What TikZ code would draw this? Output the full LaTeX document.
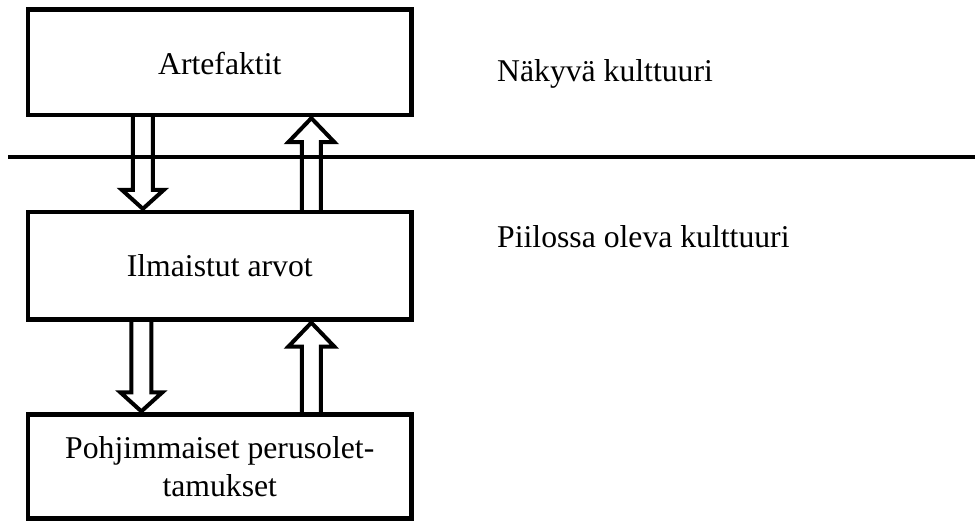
\documentclass[tikz,border=0pt]{standalone}
\usepackage{fontspec}
\setmainfont{Liberation Serif}
\usetikzlibrary{calc}
\begin{document}
\begin{tikzpicture}[x=1pt,y=-1pt,
  box/.style={draw, line width=4.3pt, rectangle, inner sep=0pt, align=center,
    font=\fontsize{31.7}{38}\selectfont},
  lbl/.style={anchor=base west, inner sep=0pt, font=\fontsize{31.7}{38}\selectfont},
  sep/.style={line width=4pt},
  hollow/.style={line width=4pt, line join=miter}
]
\useasboundingbox (0,0) rectangle (975,521);

\node[box, minimum width=383.5pt, minimum height=105.5pt, text depth=0pt] (art) at (219.75,62.25) {\raisebox{-2pt}{Artefaktit}};
\node[box, minimum width=383.5pt, minimum height=107.5pt] (arv) at (219.75,265.75) {\raisebox{-1pt}{Ilmaistut arvot}};
\node[box, minimum width=383.5pt, minimum height=104pt] (per) at (219.75,466.5) {Pohjimmaiset perusolet-\\tamukset};

\node[lbl] (nak) at (497,82) {Näkyvä kulttuuri};
\node[lbl] (pii) at (497,248) {Piilossa oleva kulttuuri};

% down arrow 1: from art to arv
\draw[hollow] let \p1=($(art.south west)+(117,0)$), \p2=($(arv.north west)+(117,0)$) in
  (\x1-10pt,\y1) -- (\x1-10pt,\y2+20pt) -- (\x1-21pt,\y2+20pt) -- (\x1,\y2+1pt)
  -- (\x1+21pt,\y2+20pt) -- (\x1+10pt,\y2+20pt) -- (\x1+10pt,\y1);
% up arrow 1: from arv to art
\draw[hollow] let \p1=($(arv.north west)+(285.5,0)$), \p2=($(art.south west)+(285.5,0)$) in
  (\x1-9.5pt,\y1) -- (\x1-9.5pt,\y2-25pt) -- (\x1-23pt,\y2-25pt) -- (\x1,\y2-1pt)
  -- (\x1+23pt,\y2-25pt) -- (\x1+9.5pt,\y2-25pt) -- (\x1+9.5pt,\y1);
% down arrow 2: from arv to per
\draw[hollow] let \p1=($(arv.south west)+(115.5,0)$), \p2=($(per.north west)+(115.5,0)$) in
  (\x1-10pt,\y1) -- (\x1-10pt,\y2+20pt) -- (\x1-21pt,\y2+20pt) -- (\x1,\y2+1pt)
  -- (\x1+21pt,\y2+20pt) -- (\x1+10pt,\y2+20pt) -- (\x1+10pt,\y1);
% up arrow 2: from per to arv
\draw[hollow] let \p1=($(per.north west)+(285.5,0)$), \p2=($(arv.south west)+(285.5,0)$) in
  (\x1-9.5pt,\y1) -- (\x1-9.5pt,\y2-25pt) -- (\x1-23pt,\y2-25pt) -- (\x1,\y2-1pt)
  -- (\x1+23pt,\y2-25pt) -- (\x1+9.5pt,\y2-25pt) -- (\x1+9.5pt,\y1);

% separator line
\coordinate (sepL) at (8,157);
\coordinate (sepR) at (975,157);
\draw[sep] (sepL) -- (sepR);
\end{tikzpicture}
\end{document}
